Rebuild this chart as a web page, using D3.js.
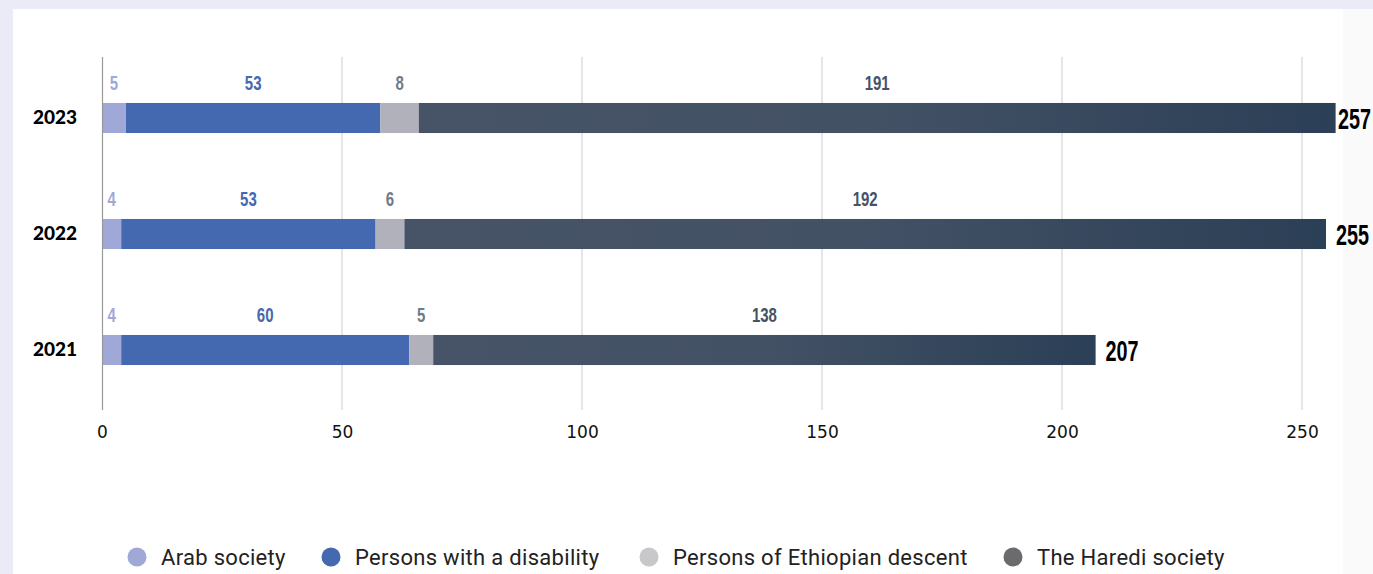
<!DOCTYPE html>
<html><head><meta charset="utf-8">
<script src="https://cdn.jsdelivr.net/npm/d3@7"></script>
<style>
html,body{margin:0;padding:0;background:#ebebf7;}
svg{display:block;}
</style></head>
<body>
<svg id="chart" width="1373" height="574"></svg>
<script>
const years = ["2023", "2022", "2021"];
const seriesNames = ["Arab society", "Persons with a disability", "Persons of Ethiopian descent", "The Haredi society"];
const arabValues = [5, 4, 4];
const disabilityValues = [53, 53, 60];
const ethiopianValues = [8, 6, 5];
const harediValues = [191, 192, 138];
const xTicks = [0, 50, 100, 150, 200, 250];

const barColors = ["#9fa8d6", "#4569b0", "#b0b1bb", "#465366"];
const labelColors = ["#9fa8d6", "#4569b0", "#6e7a8a", "#465366"];
const legendColors = ["#9fa8d6", "#4569b0", "#c8c8ca", "#6b6b6e"];

const svg = d3.select("#chart");
svg.append("rect").attr("x", 13).attr("y", 9).attr("width", 1360).attr("height", 565).attr("fill", "#ffffff");
svg.append("rect").attr("x", 1343).attr("y", 9).attr("width", 30).attr("height", 565).attr("fill", "#fafafa");

const x = d3.scaleLinear().domain([0, 250]).range([102, 1302]);
const y = d3.scaleBand().domain(years).range([60, 408]).paddingInner(0.741).paddingOuter(0.3705);

svg.append("g").selectAll("line").data(xTicks.filter(d => d > 0)).join("line")
  .attr("x1", d => x(d)).attr("x2", d => x(d))
  .attr("y1", 57).attr("y2", 410)
  .attr("stroke", "#d6d6d6").attr("stroke-width", 1.2);

const xAxis = d3.axisBottom(x).tickValues(xTicks).tickSize(0).tickPadding(0);
const gx = svg.append("g").attr("transform", "translate(0,432)").call(xAxis);
gx.select(".domain").remove();
gx.selectAll("text").attr("font-family", "DejaVu Sans").attr("font-size", 17).attr("fill", "#111").attr("dy", "0.36em").attr("y", 0);

const rows = years.map((yr, i) => ({year: yr, vals: [arabValues[i], disabilityValues[i], ethiopianValues[i], harediValues[i]]}));

const defs = svg.append("defs");
rows.forEach((r, i) => {
  const g = defs.append("linearGradient").attr("id", "hg" + i).attr("x1", "0%").attr("x2", "100%").attr("y1", "0%").attr("y2", "0%");
  g.append("stop").attr("offset", "0%").attr("stop-color", "#475467");
  g.append("stop").attr("offset", "50%").attr("stop-color", "#435165");
  g.append("stop").attr("offset", "100%").attr("stop-color", "#2b3f56");
});

function narrowText(parent, px, py, txt, size, color, sx, anchor) {
  const g = parent.append("g").attr("transform", `translate(${px},${py}) scale(${sx},1)`);
  g.append("text").attr("x", 0).attr("y", 0).attr("dy", "0.36em")
    .attr("text-anchor", anchor)
    .attr("font-family", "'Liberation Sans', Arial, sans-serif")
    .attr("font-weight", "bold").attr("font-size", size)
    .attr("fill", color).text(txt);
}

rows.forEach((r, i) => {
  let cum = 0;
  r.vals.forEach((v, k) => {
    const x0 = x(cum), x1 = x(cum + v);
    svg.append("rect")
      .attr("x", x0).attr("y", y(r.year))
      .attr("width", x1 - x0).attr("height", y.bandwidth())
      .attr("fill", k === 3 ? `url(#hg${i})` : barColors[k]);
    narrowText(svg, (x0 + x1) / 2, y(r.year) - 20, v, 20, labelColors[k], 0.75, "middle");
    cum += v;
  });
  const tx = Math.min(x(cum) + 10, 1338);
  narrowText(svg, tx, y(r.year) + y.bandwidth() / 2, cum, 30, "#000", 0.66, "start");
});

const yAxis = d3.axisLeft(y).tickSize(0).tickPadding(25);
const gy = svg.append("g").attr("transform", "translate(102,0)").call(yAxis);
gy.select(".domain").remove();
gy.selectAll("text").attr("font-family", "Lato").attr("font-weight", 900).attr("font-size", 19).attr("fill", "#000");
svg.append("line").attr("x1", 102.5).attr("x2", 102.5).attr("y1", 57).attr("y2", 410).attr("stroke", "#999").attr("stroke-width", 1.2);

const legendX = [137, 331, 649, 1013];
const lg = svg.append("g");
seriesNames.forEach((n, k) => {
  lg.append("circle").attr("cx", legendX[k]).attr("cy", 557).attr("r", 9.5).attr("fill", legendColors[k]);
  lg.append("text").attr("x", legendX[k] + 24).attr("y", 557).attr("dy", "0.35em")
    .attr("font-family", "Roboto").attr("font-size", 22).attr("letter-spacing", 0.3)
    .attr("fill", "#222").text(n);
});
</script>
</body></html>
